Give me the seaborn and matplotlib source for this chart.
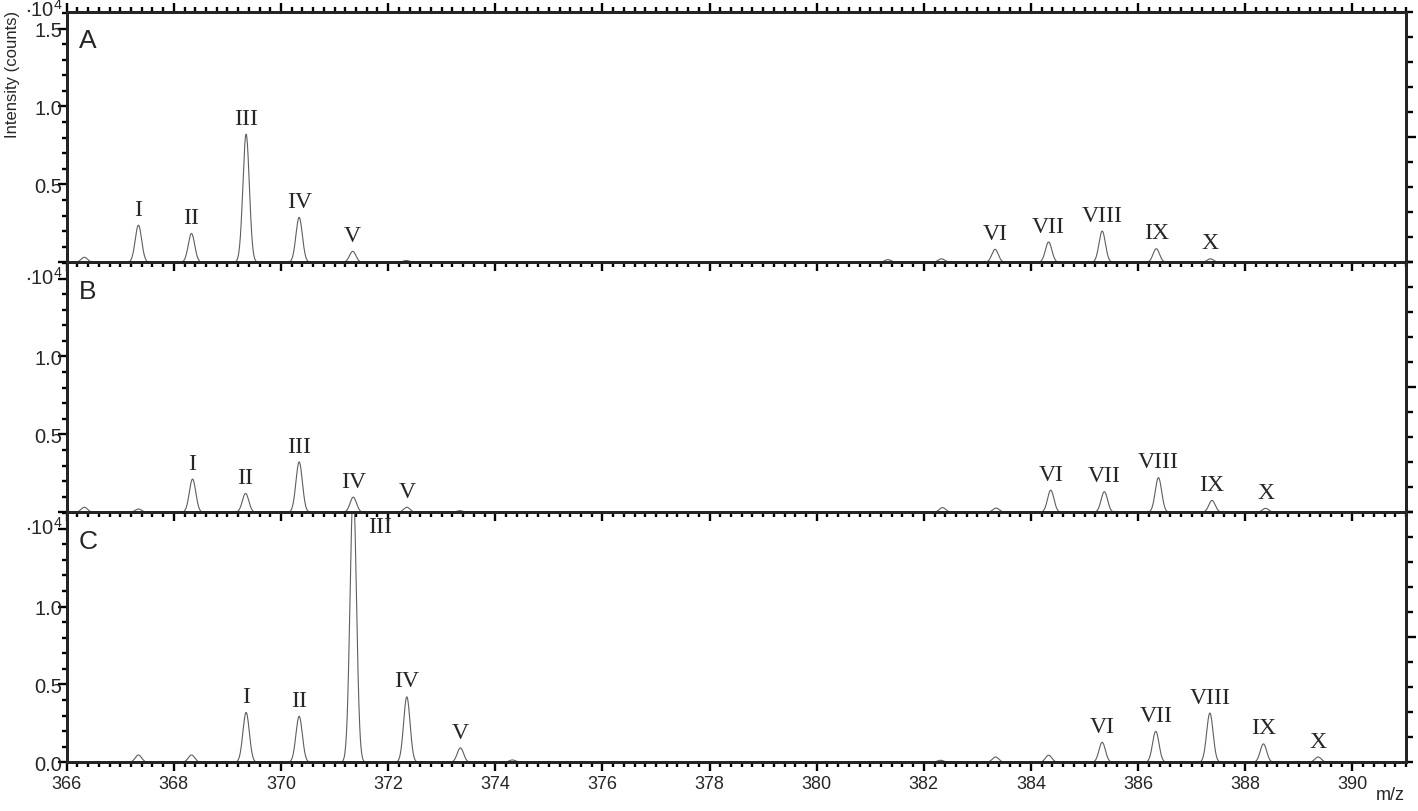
#!/usr/bin/env python3
"""Stacked mass spectra A/B/C, m/z 366-391, peaks I-X labelled."""
import numpy as np
import pandas as pd
import matplotlib

matplotlib.use("Agg")
import matplotlib.pyplot as plt
import seaborn as sns
from matplotlib.ticker import FixedLocator, MultipleLocator

OUT = "out.png"

# peak centres (m/z) and apex intensities (x 10^4 counts)
A_MZ = [366.33, 367.34, 368.33, 369.35, 370.34, 371.34, 372.34,
        381.33, 382.33, 383.33, 384.33, 385.33, 386.34, 387.35]
A_INT = [0.032, 0.238, 0.185, 0.822, 0.288, 0.070, 0.011,
         0.017, 0.022, 0.083, 0.130, 0.200, 0.087, 0.022]
A_LABELS = ["", "I", "II", "III", "IV", "V", "",
            "", "", "VI", "VII", "VIII", "IX", "X"]

B_MZ = [366.33, 367.34, 368.35, 369.34, 370.34, 371.35, 372.35, 373.34,
        382.35, 383.35, 384.37, 385.37, 386.38, 387.38, 388.38]
B_INT = [0.032, 0.021, 0.213, 0.121, 0.323, 0.097, 0.032, 0.010,
         0.030, 0.027, 0.142, 0.132, 0.222, 0.076, 0.025]
B_LABELS = ["", "", "I", "II", "III", "IV", "V", "",
            "", "", "VI", "VII", "VIII", "IX", "X"]

C_MZ = [367.34, 368.33, 369.35, 370.34, 371.35, 372.35, 373.35, 374.32,
        382.31, 383.34, 384.33, 385.33, 386.33, 387.34, 388.34, 389.36]
C_INT = [0.047, 0.047, 0.320, 0.295, 1.750, 0.420, 0.092, 0.015,
         0.013, 0.034, 0.045, 0.128, 0.199, 0.316, 0.118, 0.034]
C_LABELS = ["", "", "I", "II", "III", "IV", "V", "",
            "", "", "", "VI", "VII", "VIII", "IX", "X"]

PANELS = ["A", "B", "C"]
X_TICKS = [366, 368, 370, 372, 374, 376, 378, 380, 382, 384, 386, 388, 390]
Y_TICKS = [0.0, 0.5, 1.0, 1.5]
Y_TICKLABELS = {
    "A": ["", "0.5", "1.0", "1.5"],
    "B": ["", "0.5", "1.0", ""],
    "C": ["0.0", "0.5", "1.0", ""],
}

XLIM = (366, 391)
YMAX = 1.605
PEAK_SIGMA = 0.06
LINE_COLOR = "#5e5e5e"


def spectrum(mz, inten, grid):
    y = np.zeros_like(grid)
    for c, h in zip(mz, inten):
        y += h * np.exp(-0.5 * ((grid - c) / PEAK_SIGMA) ** 2)
    return y


def main() -> None:
    sns.set_theme(style="ticks")
    plt.rcParams["font.family"] = ["Liberation Sans", "DejaVu Sans"]
    plt.rcParams["mathtext.fontset"] = "custom"
    plt.rcParams["mathtext.rm"] = "Liberation Sans"
    plt.rcParams["mathtext.default"] = "regular"
    plt.rcParams["axes.linewidth"] = 2.0

    data = {
        "A": (A_MZ, A_INT, A_LABELS),
        "B": (B_MZ, B_INT, B_LABELS),
        "C": (C_MZ, C_INT, C_LABELS),
    }
    grid = np.linspace(XLIM[0], XLIM[1], 6001)

    fig = plt.figure(figsize=(14.18, 8.12), dpi=100)
    left, width = 0.047, 0.9445
    bottom0, height = 0.06, 0.3079
    axes = []
    for i, name in enumerate(PANELS):
        b = bottom0 + (len(PANELS) - 1 - i) * height
        axes.append(fig.add_axes([left, b, width, height]))

    for i, (name, ax) in enumerate(zip(PANELS, axes)):
        mz, inten, labels = data[name]
        df = pd.DataFrame({"mz": grid, "intensity": spectrum(mz, inten, grid)})
        sns.lineplot(data=df, x="mz", y="intensity", ax=ax, color=LINE_COLOR,
                     linewidth=0.8, estimator=None, sort=False)
        ax.patch.set_visible(False)
        ax.set_xlim(*XLIM)
        ax.set_ylim(0, YMAX)
        ax.set_xlabel("")
        ax.set_ylabel("")

        ax.xaxis.set_major_locator(FixedLocator(X_TICKS))
        ax.xaxis.set_minor_locator(MultipleLocator(0.2))
        ax.yaxis.set_major_locator(FixedLocator(Y_TICKS))
        ax.yaxis.set_minor_locator(MultipleLocator(0.1))
        ax.set_yticklabels(Y_TICKLABELS[name])
        ax.tick_params(which="both", direction="out", width=1.7, color="black")
        ax.tick_params(axis="y", which="major", length=6.5, pad=-3.5, labelsize=14.5)
        ax.tick_params(axis="y", which="minor", length=3.8)
        ax.tick_params(axis="x", which="major", length=6.5, pad=3, labelsize=13)
        ax.tick_params(axis="x", which="minor", length=3.8)
        ax.tick_params(axis="x", which="both", top=(i == 0),
                       labelbottom=(i == len(PANELS) - 1))
        for sp in ax.spines.values():
            sp.set_visible(True)
            sp.set_linewidth(2.0)
            sp.set_color("black")

        # unlabelled right-hand scale
        ax2 = ax.twinx()
        ax2.set_ylim(0, 10)
        ax2.yaxis.set_major_locator(FixedLocator([5]))
        ax2.yaxis.set_minor_locator(MultipleLocator(1))
        ax2.set_yticklabels([])
        ax2.tick_params(axis="y", which="both", direction="out", width=1.7, color="black")
        ax2.tick_params(axis="y", which="major", length=7)
        ax2.tick_params(axis="y", which="minor", length=5)
        ax2.grid(False)
        for sp in ax2.spines.values():
            sp.set_linewidth(2.0)

        ax.text(0.0092, 0.935, name, transform=ax.transAxes, ha="left", va="top",
                fontsize=19)
        ax.text(-0.0025, 1.012 if i == 0 else 0.94, r"$\cdot10^{4}$",
                transform=ax.transAxes, ha="right", va="center", fontsize=14.5)

        for c, h, lab in zip(mz, inten, labels):
            if not lab:
                continue
            if h > YMAX:
                ax.text(c + 0.5, 1.515, lab, ha="center", va="center",
                        fontsize=17, family="Liberation Serif")
            else:
                ax.annotate(lab, (c, h), xytext=(0, 7.5), textcoords="offset points",
                            ha="center", va="baseline", fontsize=17,
                            family="Liberation Serif")

    fig.text(0.0085, 0.908, "Intensity (counts)", rotation=90, ha="center",
             va="center", fontsize=12)
    fig.text(0.991, 0.01, "m/z", ha="right", va="bottom", fontsize=13)

    fig.savefig(OUT, dpi=100)


if __name__ == "__main__":
    main()
